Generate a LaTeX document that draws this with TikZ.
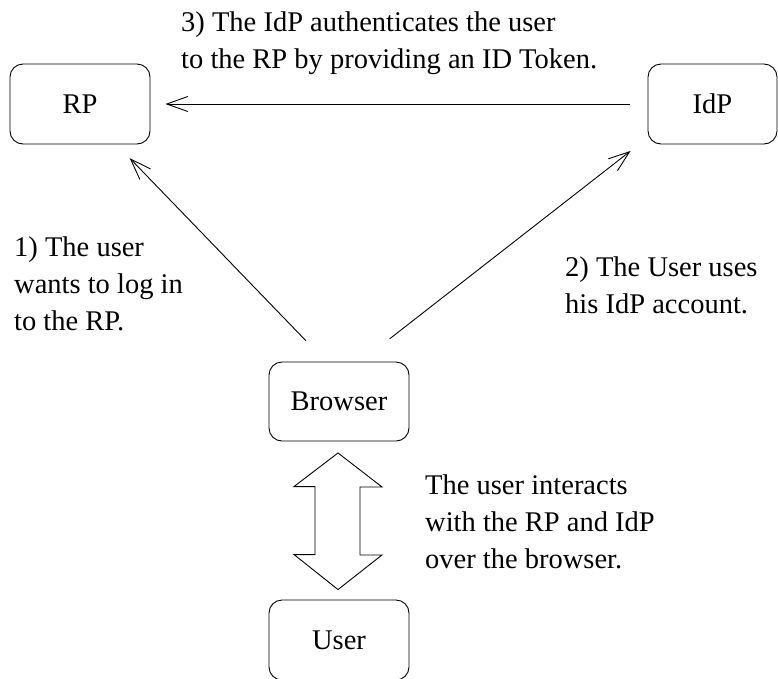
\documentclass[tikz,border=0pt]{standalone}
\usepackage{fontspec}
\setmainfont{Liberation Serif}
\usetikzlibrary{arrows.meta,calc}
\begin{document}
\begin{tikzpicture}[x=1pt,y=-1pt,
  txt/.style={font=\fontsize{28.5}{36.7}\selectfont},
  box/.style={draw, line width=0.9pt, rounded corners=13pt, minimum width=140pt, minimum height=80pt, inner sep=0pt, txt},
  lbl/.style={align=left, anchor=base west, inner sep=0pt, txt},
  conn/.style={line width=0.9pt, -{Straight Barb[length=21pt,width=15pt]}},
  dbl/.style={draw, line width=0.9pt, line join=miter}]
\useasboundingbox (0,0) rectangle (778,678);
\node[box] (RP) at (80,104) {RP};
\node[box, minimum width=129pt] (IdP) at (712.5,104) {IdP};
\node[box, minimum height=79pt] (Browser) at (339,401.5) {Browser};
\node[box] (User) at (339,640) {User};

\draw[conn, shorten <=18pt, shorten >=15pt] (IdP.west) -- (RP.east);
\draw[conn, shorten <=29pt, shorten >=19pt] ($(Browser.north)+(-13,0)$) -- ($(RP.south)+(36.5,0)$);
\draw[conn, shorten <=37pt, shorten >=21.6pt] ($(Browser.north)+(21.5,0)$) -- ($(IdP.west)+(0,33.7)$);

\coordinate (t1) at ($(Browser.south)+(-1,11.5)$);
\coordinate (t2) at ($(User.north)+(-1,-10)$);
\draw[dbl] (t1) -- ++(44,34) -- ++(-22,0) -- ++(0,68) -- ++(22,0) -- (t2) -- ++(-44,-35) -- ++(21,0) -- ++(0,-68) -- ++(-21,0) -- cycle;

\node[lbl] (l3) at (181,68) {3) The IdP authenticates the user\\to the RP by providing an ID Token.};
\node[lbl] (l1) at (14,330) {1) The user\\wants to log in\\to the RP.};
\node[lbl] (l2) at (565,313) {2) The User uses\\his IdP account.};
\node[lbl] (l4) at (425,568) {The user interacts\\with the RP and IdP\\over the browser.};
\end{tikzpicture}
\end{document}
